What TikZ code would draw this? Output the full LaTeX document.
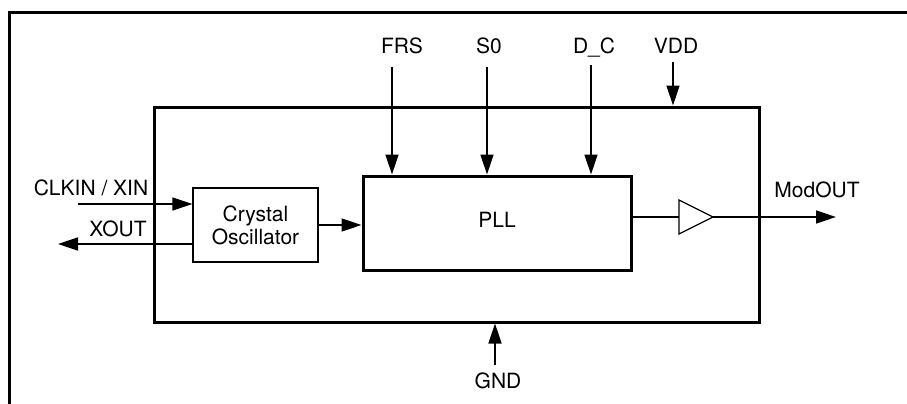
\documentclass[tikz,border=0pt]{standalone}
\usepackage{fontspec}
\setmainfont{TeX Gyre Heros}
\usepackage{tikz}
\usetikzlibrary{arrows.meta}
\tikzstyle{sigarrow} = [line width=1.6pt,-{Triangle[length=20pt,width=13pt]}]
\tikzstyle{thinbox} = [draw,line width=1.3pt,inner sep=0pt]
\tikzstyle{bigbox} = [draw,line width=3pt,inner sep=0pt]
\tikzstyle{pinlabel} = [anchor=base,inner sep=0pt]

\begin{document}
\begin{tikzpicture}[x=1pt,y=-1pt,font=\fontsize{21}{23}\selectfont]
    \useasboundingbox (0,0) rectangle (907,404);
    \draw[line width=3pt] (9,410) -- (9,13) -- (910,13);
    \draw (456.5,214.5) node[bigbox,minimum width=605pt,minimum height=215pt](chip){};
    \draw (255.5,225) node[thinbox,minimum width=125pt,minimum height=74pt,align=center](osc){Crystal\\Oscillator};
    \draw (497,223) node[bigbox,minimum width=268pt,minimum height=94pt,text depth=6pt](pll){PLL};
    \coordinate (clkin) at (78,204);
    \coordinate (xout) at (58,244);
    \coordinate (frsin) at (392,67);
    \coordinate (s0in) at (487,67);
    \coordinate (dcin) at (591,65);
    \coordinate (vddin) at (673,62);
    \coordinate (gndin) at (495,365);
    \coordinate (bufin) at (679,217);
    \coordinate (buftip) at (713,217);
    \coordinate (modout) at (836,217);
    \draw (91,195) node[pinlabel](clklbl){CLKIN / XIN};
    \draw (118,236) node[pinlabel](xoutlbl){XOUT};
    \draw (402,53) node[pinlabel](frs){FRS};
    \draw (489,53) node[pinlabel](s0){S0};
    \draw (594,53) node[pinlabel](dc){D\_C};
    \draw (676,53) node[pinlabel](vdd){VDD};
    \draw (817,197) node[pinlabel](modlbl){ModOUT};
    \draw (498,388) node[pinlabel](gnd){GND};
    \draw[sigarrow] (clkin) -- (clkin -| osc.west);
    \draw[sigarrow] (osc.west |- xout) -- (xout);
    \draw[sigarrow] (osc.east) -- (osc.east -| pll.west);
    \draw[sigarrow] (frsin) -- (frsin |- pll.north);
    \draw[sigarrow] (s0in) -- (s0in |- pll.north);
    \draw[sigarrow] (dcin) -- (dcin |- pll.north);
    \draw[sigarrow] (vddin) -- (vddin |- chip.north);
    \draw[sigarrow] (gndin) -- (gndin |- chip.south);
    \draw[line width=1.3pt] (bufin |- 0,200) -- (buftip) -- (bufin |- 0,234) -- cycle;
    \draw[line width=1.3pt] (pll.east |- bufin) -- (bufin);
    \draw[sigarrow] (buftip) -- (modout);
  \end{tikzpicture}
\end{document}
